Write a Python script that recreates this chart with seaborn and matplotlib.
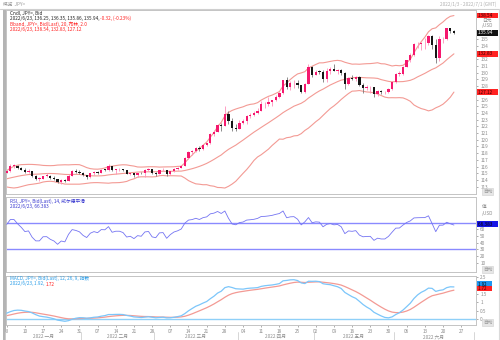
import numpy as np
import pandas as pd
import matplotlib
matplotlib.use("Agg")
import matplotlib.pyplot as plt
import seaborn as sns
from matplotlib.lines import Line2D
from matplotlib.patches import Rectangle

sns.set_theme(style="white")
plt.rcParams['font.family'] = ['Noto Sans CJK SC', 'DejaVu Sans']

# ---------------- data ----------------
# closes Nov-Dec 2021 (indicator warm-up)
prior_close = [114.00, 113.98, 114.07, 113.75, 113.41, 113.21, 112.90, 113.93, 114.07, 113.88,
               114.14, 114.83, 114.09, 114.25, 114.00, 114.86, 115.12, 115.45, 115.36, 113.38,
               113.65, 113.17,
               112.80, 113.18, 112.79, 113.46, 113.52, 113.76, 113.48, 113.40, 113.57, 113.72,
               114.05, 113.72, 113.69, 113.64, 114.08, 114.14, 114.42, 114.37, 114.83, 114.83,
               114.96, 115.06, 115.08]

open_ = [115.08, 115.30, 116.12, 116.13, 115.83, 115.56, 115.19, 115.27, 114.64, 114.18,
         114.18, 114.60, 114.61, 114.31, 114.11, 113.67, 113.97, 113.86, 114.66, 115.35,
         115.26, 115.11, 114.70, 114.43, 114.99, 115.22, 115.10, 115.55, 115.53, 116.03,
         115.42, 115.58, 115.58, 115.44, 114.93, 115.02, 114.74, 115.07, 115.00, 115.52,
         115.58, 114.99, 114.89, 115.47, 115.51, 114.83, 115.30, 115.67, 115.85, 116.13,
         117.30, 118.15, 118.31, 118.72, 118.60, 119.19, 119.46, 120.80, 121.19, 122.28,
         122.05, 123.86, 122.80, 121.82, 121.68, 122.50, 122.75, 123.60, 123.75, 123.95,
         124.35, 125.33, 125.38, 125.60, 125.90, 126.45, 126.93, 128.90, 127.87, 128.41,
         128.52, 128.13, 127.18, 128.40, 130.82, 129.70, 130.18, 130.12, 129.09, 130.20,
         130.55, 130.28, 130.44, 129.97, 128.33, 129.23, 129.13, 129.35, 128.23, 127.77,
         127.86, 127.88, 126.82, 127.32, 127.11, 127.11, 127.65, 128.66, 129.84, 129.88,
         130.87, 131.89, 132.61, 134.23, 134.35, 134.40, 134.42, 135.45, 134.09, 132.23,
         135.01, 135.06, 136.63, 136.25]

high = [115.41, 116.35, 116.34, 116.28, 116.00, 115.80, 115.68, 115.38, 114.78, 114.50,
        114.64, 115.05, 114.80, 114.63, 114.16, 114.08, 114.10, 114.86, 115.48, 115.68,
        115.48, 115.16, 114.80, 115.00, 115.39, 115.37, 115.68, 115.68, 116.34, 116.07,
        115.70, 115.80, 115.70, 115.50, 115.10, 115.10, 115.10, 115.25, 115.70, 115.77,
        115.70, 115.21, 115.55, 115.80, 115.53, 115.38, 115.80, 116.00, 116.23, 117.36,
        118.30, 118.45, 118.90, 119.02, 119.40, 119.50, 120.95, 121.40, 122.40, 122.45,
        125.09, 124.30, 123.18, 122.40, 122.97, 123.05, 123.70, 124.05, 124.30, 124.69,
        125.77, 125.63, 126.32, 126.00, 126.68, 127.10, 128.99, 129.40, 128.70, 128.85,
        128.85, 128.20, 128.50, 131.25, 131.00, 130.40, 130.35, 130.40, 130.70, 130.80,
        131.35, 130.55, 130.50, 130.10, 129.37, 129.70, 129.53, 129.45, 128.50, 128.20,
        128.08, 127.90, 127.45, 127.50, 127.30, 127.80, 128.75, 130.02, 130.25, 130.98,
        131.95, 132.99, 134.48, 134.56, 134.60, 135.19, 135.60, 135.59, 135.00, 135.43,
        135.40, 136.71, 136.71, 136.35]

low = [115.00, 115.22, 115.75, 115.70, 115.50, 115.07, 115.10, 114.48, 113.95, 113.84,
       114.10, 114.40, 114.19, 114.00, 113.62, 113.47, 113.66, 113.82, 114.62, 115.08,
       114.93, 114.60, 114.15, 114.33, 114.80, 114.95, 115.05, 115.40, 115.39, 115.30,
       114.90, 115.36, 115.30, 114.83, 114.80, 114.52, 114.40, 114.90, 114.40, 115.40,
       114.84, 114.66, 114.85, 115.30, 114.65, 114.75, 115.20, 115.52, 115.80, 116.05,
       117.20, 117.70, 118.20, 118.35, 118.45, 119.00, 119.40, 120.50, 121.10, 121.30,
       122.00, 122.40, 121.32, 121.30, 121.65, 122.38, 122.40, 123.30, 123.50, 123.90,
       124.30, 124.73, 125.05, 125.00, 125.80, 126.30, 126.90, 127.60, 127.50, 127.80,
       127.80, 126.95, 127.00, 128.30, 129.35, 129.60, 129.80, 128.60, 128.60, 129.80,
       130.20, 129.80, 129.60, 127.52, 128.20, 128.95, 128.70, 128.09, 127.02, 127.50,
       127.05, 126.36, 126.60, 126.90, 126.76, 127.00, 127.50, 128.55, 129.55, 129.70,
       130.80, 131.65, 132.50, 133.70, 133.35, 133.60, 134.20, 133.60, 131.50, 131.80,
       134.40, 134.95, 135.98, 135.86]

close = [115.30, 116.12, 116.13, 115.83, 115.56, 115.19, 115.27, 114.64, 114.18, 114.18,
         114.60, 114.61, 114.31, 114.11, 113.67, 113.97, 113.86, 114.66, 115.35, 115.26,
         115.11, 114.70, 114.43, 114.99, 115.22, 115.10, 115.55, 115.53, 116.03, 115.42,
         115.58, 115.58, 115.44, 114.93, 115.02, 114.74, 115.07, 115.00, 115.52, 115.58,
         114.99, 114.89, 115.47, 115.51, 114.83, 115.30, 115.67, 115.85, 116.13, 117.30,
         118.15, 118.31, 118.72, 118.60, 119.19, 119.46, 120.80, 121.19, 122.28, 122.05,
         123.86, 122.80, 121.82, 121.68, 122.50, 122.75, 123.60, 123.75, 123.95, 124.35,
         125.33, 125.38, 125.60, 125.90, 126.45, 126.93, 128.90, 127.87, 128.41, 128.52,
         128.13, 127.18, 128.40, 130.82, 129.70, 130.18, 130.12, 129.09, 130.20, 130.55,
         130.28, 130.44, 129.97, 128.33, 129.23, 129.13, 129.35, 128.23, 127.77, 127.86,
         127.88, 126.82, 127.32, 127.11, 127.11, 127.65, 128.66, 129.84, 129.88, 130.87,
         131.89, 132.61, 134.23, 134.35, 134.40, 134.42, 135.45, 134.09, 132.23, 135.01,
         135.06, 136.63, 136.26, 135.94]

month_labels = ["2022 一月", "2022 二月", "2022 三月", "2022 四月", "2022 五月", "2022 六月"]
title_left = "概览  JPY="
title_right = "2022/1/3 - 2022/7/1 (GMT)"

# ---------------- indicators ----------------
n = len(close)
npr = len(prior_close)
s = pd.Series(prior_close + close)
mid = s.rolling(20).mean()
sd = s.rolling(20).std(ddof=0)
upper = (mid + 2 * sd).values[npr:]
lower = (mid - 2 * sd).values[npr:]
mid = mid.values[npr:]

d = s.diff()
gain = d.clip(lower=0).ewm(alpha=1 / 14, adjust=False).mean()
loss = (-d.clip(upper=0)).ewm(alpha=1 / 14, adjust=False).mean()
rsi = (100 - 100 / (1 + gain / loss)).values[npr:]

ema12 = s.ewm(span=12, adjust=False).mean()
ema26 = s.ewm(span=26, adjust=False).mean()
macd_s = ema12 - ema26
signal = macd_s.ewm(span=9, adjust=False).mean().values[npr:]
macd = macd_s.values[npr:]

idx = np.arange(n)
all_days = pd.bdate_range("2022-01-03", "2022-06-30")

# ---------------- figure ----------------
W, H = 500, 340
fig = plt.figure(figsize=(5, 3.4), dpi=100)
fig.patch.set_facecolor("white")

def fx(p):
    return p / W

def fy(p):
    return 1 - p / H

L, R = 6, 476
XL = (-0.19, 129.07)

ax = fig.add_axes([fx(L), fy(194), fx(R - L), (194 - 10) / H])
ax_r = fig.add_axes([fx(L), fy(272), fx(R - L), (272 - 197) / H])
ax_m = fig.add_axes([fx(L), fy(325), fx(R - L), (325 - 276) / H])

GRAY = "#8c8c8c"
SP = "#c4c4c4"
FS = 3.4

for a in (ax, ax_r, ax_m):
    a.set_facecolor("white")
    a.set_xlim(*XL)
    for sp in a.spines.values():
        sp.set_color(SP)
        sp.set_linewidth(0.7)
    a.yaxis.tick_right()
    a.tick_params(axis="y", labelsize=FS, colors=GRAY, length=1.5, width=0.5, pad=1.5, right=True, left=False)
    a.tick_params(axis="x", bottom=False, labelbottom=False)
    a.grid(False)

# ---- candles ----
UP = "#f5186e"
UPW = "#ff8fba"
DN = "#151515"
DNW = "#7a7a7a"
o = np.array(open_); c = np.array(close); h = np.array(high); l = np.array(low)
up = c >= o
ax.vlines(idx[up], l[up], h[up], color=UPW, linewidth=0.6, zorder=2)
ax.vlines(idx[~up], l[~up], h[~up], color=DNW, linewidth=0.6, zorder=2)
body_lo = np.minimum(o, c)
body_h = np.maximum(np.abs(c - o), 0.08)
ax.bar(idx[up], body_h[up], bottom=body_lo[up], width=0.64, color=UP, linewidth=0, zorder=3)
ax.bar(idx[~up], body_h[~up], bottom=body_lo[~up], width=0.64, color=DN, linewidth=0, zorder=3)

BB = "#f39a94"
for band in (upper, mid, lower):
    sns.lineplot(x=idx, y=band, ax=ax, color=BB, linewidth=0.8, zorder=1, legend=False)
ax.set_ylim(111.91, 139.37)
ax.set_yticks(list(range(113, 136)))
ax.set_yticklabels(["" if v in (127, 133) else str(v) for v in range(113, 136)])
ax.set_ylabel("")

# right boxes
def rbox(a, y, txt, fc, tc, size=FS):
    a.text(1.003, y, " " + txt + "     ", transform=a.get_yaxis_transform(), ha="left", va="center",
           fontsize=size, color=tc, clip_on=False, zorder=20,
           bbox=dict(boxstyle="square,pad=0.06", fc=fc, ec="none"))

rbox(ax, upper[-1], f"{upper[-1]:.2f}", "#ff2222", "#3a0000")
rbox(ax, close[-1], f"{close[-1]:.2f}", "#111111", "white")
rbox(ax, mid[-1], f"{mid[-1]:.2f}", "#ff2222", "#3a0000")
rbox(ax, lower[-1], f"{lower[-1]:.2f}", "#ff2222", "#3a0000")
ax.text(1.012, 137.75, "日元", transform=ax.get_yaxis_transform(), fontsize=FS, color=GRAY, va="center", clip_on=False)
ax.text(1.012, 137.1, "/USD", transform=ax.get_yaxis_transform(), fontsize=FS, color=GRAY, va="center", clip_on=False)

def auto_box(a):
    a.text(1.015, 0.0, "自动", transform=a.transAxes, ha="left", va="bottom", fontsize=FS, color="#9a9a9a",
           clip_on=False, zorder=20, bbox=dict(boxstyle="square,pad=0.2", fc="#e6e6e6", ec="#cfcfcf", lw=0.4))

auto_box(ax)

# ---- RSI ----
RSIC = "#7474f2"
sns.lineplot(x=idx, y=rsi, ax=ax_r, color=RSIC, linewidth=0.6, legend=False, zorder=3)
ax_r.axhline(70, color="#8a8aff", linewidth=1.0, zorder=2)
ax_r.axhline(30, color="#8a8aff", linewidth=1.0, zorder=2)
ax_r.set_ylim(-4.0, 108.4)
ax_r.set_yticks([10, 20, 30, 40, 50, 60])
ax_r.set_yticklabels(["10", "20", "30", "40", "50", "60"])
ax_r.set_ylabel("")
rbox(ax_r, rsi[-1] + 1.5, f"{rsi[-1]:.3f}", "#1515e6", "#000000")
ax_r.text(1.012, 94, "值", transform=ax_r.get_yaxis_transform(), fontsize=FS, color=GRAY, va="center", clip_on=False)
ax_r.text(1.012, 84, "/USD", transform=ax_r.get_yaxis_transform(), fontsize=FS, color=GRAY, va="center", clip_on=False)
auto_box(ax_r)

# ---- MACD ----
MC = "#7cc6fa"
SC = "#f39a94"
ax_m.axhline(0, color="#8fd0f8", linewidth=1.0, zorder=1)
sns.lineplot(x=idx, y=macd, ax=ax_m, color=MC, linewidth=0.9, legend=False, zorder=3)
sns.lineplot(x=idx, y=signal, ax=ax_m, color=SC, linewidth=0.9, legend=False, zorder=2)
ax_m.set_ylim(-0.36, 2.57)
ax_m.set_yticks([0, 0.5, 1, 1.5, 2.5])
ax_m.set_yticklabels(["0", "0.5", "1", "1.5", "2.5"])
ax_m.set_ylabel("")
rbox(ax_m, 2.08, f"{macd[-1]:.2f}", "#1e96f0", "#000000", size=3.1)
rbox(ax_m, 1.81, f"{signal[-1]:.2f}", "#ff2222", "#3a0000", size=3.1)
auto_box(ax_m)

# date ticks
mondays = [i for i, dd in enumerate(all_days) if dd.weekday() == 0]
ax_m.set_xticks(mondays)
ax_m.set_xticklabels([f"{all_days[i].day:02d}" for i in mondays])
ax_m.tick_params(axis="x", bottom=True, labelbottom=True, labelsize=FS, colors=GRAY, length=1.5,
                 width=0.5, pad=1.5)
ax_m.set_xlim(*XL)

# month labels & separators
px_per = (R - L) / (XL[1] - XL[0])
def xpix(i):
    return L + (i - XL[0]) * px_per

months = all_days.month
for k, m in enumerate(sorted(set(months))):
    ids = [i for i, mm in enumerate(months) if mm == m]
    cx = xpix((ids[0] + ids[-1]) / 2)
    fig.text(fx(cx), fy(336.5), month_labels[k], fontsize=FS, color=GRAY, ha="center", va="center")
    sx = xpix(ids[0] - 0.5)
    fig.add_artist(Line2D([fx(sx), fx(sx)], [fy(332), fy(340)], color="#d0d0d0", linewidth=0.6))
fig.add_artist(Line2D([fx(xpix(len(all_days) - 0.5))] * 2, [fy(332), fy(340)], color="#d0d0d0", linewidth=0.6))

# frame decorations
fig.add_artist(Rectangle((fx(2.5), 0), fx(3), fy(10), color="#b4b4b4", lw=0))
fig.add_artist(Line2D([0, 1], [fy(8.5), fy(8.5)], color="#cfcfcf", linewidth=0.8))
fig.add_artist(Line2D([fx(499), fx(499)], [0, fy(8.5)], color="#dadada", linewidth=0.8))
fig.text(fx(3), fy(4.3), title_left, fontsize=FS, color="#9a9a9a", ha="left", va="center")
fig.text(fx(496), fy(4.3), title_right, fontsize=FS, color="#b0b0b0", ha="right", va="center")

# legends (mixed colour text chained)
fig.canvas.draw()
rend = fig.canvas.get_renderer()

def chain(x, y, parts, size=FS):
    for txt, col in parts:
        t = fig.text(fx(x), fy(y), txt, fontsize=size, color=col, ha="left", va="center")
        bb = t.get_window_extent(renderer=rend)
        x = bb.x1

chain(10, 13, [("Cndl, JPY=, Bid", "#222222")])
chain(10, 18.5, [(f"2022/6/23, {open_[-1]:.2f}, {high[-1]:.2f}, {low[-1]:.2f}, {close[-1]:.2f}, ", "#222222"),
                 (f"{close[-1]-close[-2]:.2f}, ({(close[-1]-close[-2])/close[-2]*100:.2f}%)", "#ff2020")])
chain(10, 24, [("Bband, JPY=, Bid(Last), 20, 布林, 2.0", "#ff2020")])
chain(10, 29.5, [(f"2022/6/23, {upper[-1]:.2f}, {mid[-1]:.2f}, {lower[-1]:.2f}", "#ff2020")])

chain(10, 201, [("RSI, JPY=, Bid(Last), 14, 威尔德平滑", "#3a3ad0")])
chain(10, 206.5, [(f"2022/6/23, {rsi[-1]:.3f}", "#3a3ad0")])

chain(10, 278.5, [("MACD, JPY=, Bid(Last), 12, 26, 9, 指数", "#2a9de8")])
chain(10, 284, [("2022/6/23, ", "#2a9de8"), (f"{macd[-1]:.2f}, ", "#2a9de8"), (f"{signal[-1]:.2f}", "#ff2020")])

fig.savefig("out.png", dpi=100, facecolor="white")
